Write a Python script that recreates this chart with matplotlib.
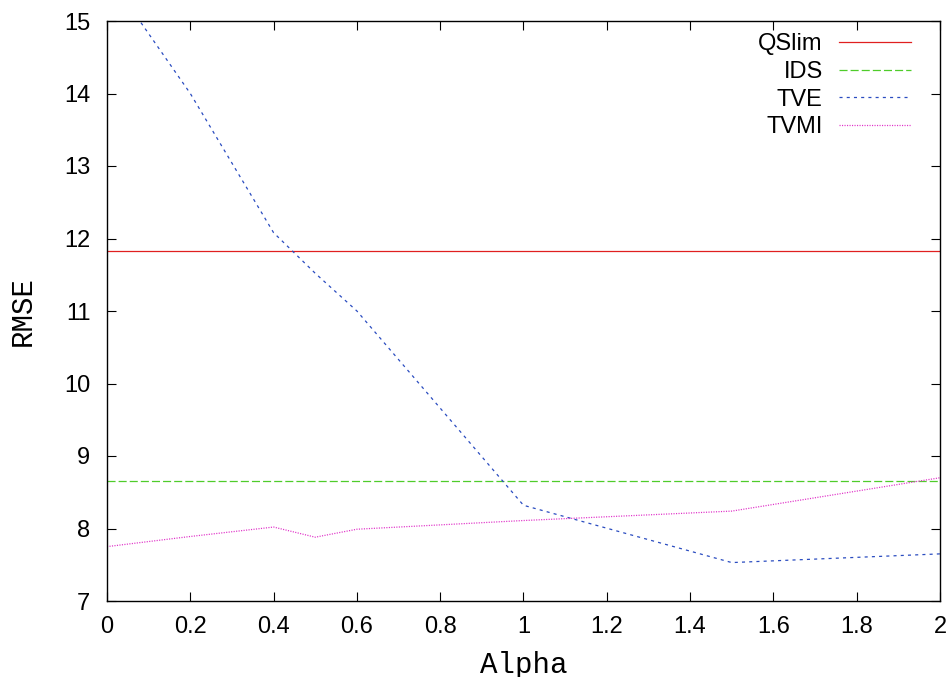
import numpy as np
import matplotlib
matplotlib.use("Agg")
import matplotlib.pyplot as plt
from matplotlib.ticker import FormatStrFormatter

# RMSE versus alpha for the four simplification methods
alpha = [0.0, 0.2, 0.4, 0.5, 0.6, 1.0, 1.5, 2.0]
tve = [15.65, 14.0, 12.08, 11.52, 11.0, 8.32, 7.53, 7.65]
tvmi = [7.75, 7.89, 8.02, 7.88, 7.99, 8.11, 8.24, 8.70]

# methods that do not depend on alpha
qslim = 11.83
ids = 8.66

plt.rcParams['font.family'] = ['Liberation Sans', 'DejaVu Sans']
plt.rcParams['lines.scale_dashes'] = False

fig = plt.figure(figsize=(9.53, 6.77), dpi=100)
ax = fig.add_axes([107 / 953, 1 - 601 / 677, 833 / 953, 580 / 677])

lw = 0.9
ax.plot([alpha[0], alpha[-1]], [qslim, qslim], color='#e02020', lw=lw, label='QSlim')
ax.plot([alpha[0], alpha[-1]], [ids, ids], color='#4fcc2a', lw=lw,
        dashes=(5.8, 2.2), label='IDS')
ax.plot(alpha, tve, color='#2a4cc0', lw=lw, dashes=(2.2, 3.0), label='TVE')
ax.plot(alpha, tvmi, color='#e030c8', lw=lw, dashes=(0.8, 1.0), label='TVMI')

ax.set_xlim(0, 2)
ax.set_ylim(7, 15)
ax.set_xticks(np.arange(0, 2.01, 0.2))
ax.set_yticks(range(7, 16))
ax.xaxis.set_major_formatter(FormatStrFormatter('%g'))

ax.tick_params(direction='in', length=6.5, width=0.8, top=True, right=True,
               labelsize=17)
ax.tick_params(axis='x', pad=11)
ax.tick_params(axis='y', pad=12)
for s in ax.spines.values():
    s.set_linewidth(1.0)

ax.set_xlabel('Alpha', family='Liberation Mono', fontsize=21, labelpad=9)
ax.set_ylabel('RMSE', family='Liberation Mono', fontsize=21, labelpad=20)

ax.legend(loc='upper right', bbox_to_anchor=(0.965, 0.979), frameon=False,
          markerfirst=False, fontsize=17, handlelength=3.05,
          handletextpad=0.68, labelspacing=0.24, borderpad=0,
          borderaxespad=0)

fig.savefig('out.png', dpi=100)
